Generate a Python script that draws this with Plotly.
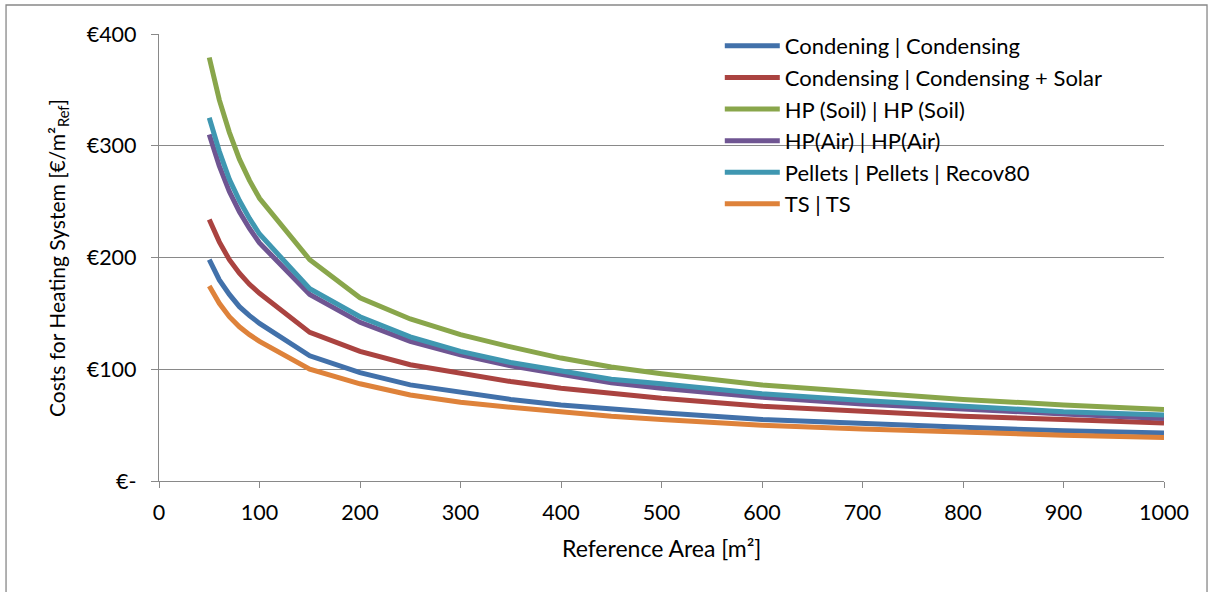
import plotly.graph_objects as go

area = [50, 60, 70, 80, 90, 100, 150, 200, 250, 300, 350, 400, 450, 500, 600, 700, 800, 900, 1000]

condensing = [198, 180, 167, 156, 148, 141, 112, 97, 86, 79, 73, 68, 64, 61, 55, 51, 48, 45, 43]
condensing_solar = [234, 214, 198, 186, 176, 168, 133, 116, 104, 96, 89, 83, 78, 74, 67, 62, 58, 55, 52]
hp_soil = [379, 341, 312, 288, 269, 253, 198, 164, 145, 131, 120, 110, 102, 96, 86, 79, 73, 68, 64]
hp_air = [310, 282, 259, 241, 226, 213, 167, 142, 125, 113, 103, 95, 88, 83, 75, 69, 64, 60, 56]
pellets = [325, 295, 270, 251, 235, 221, 172, 147, 129, 116, 106, 98, 91, 87, 78, 72, 67, 62, 59]
ts = [174.5, 159, 147, 138, 131, 125, 100, 87, 77, 70.5, 66, 61.5, 58, 55, 50, 46.5, 43.5, 41, 39]

series_names = [
    "Condening | Condensing",
    "Condensing | Condensing + Solar",
    "HP (Soil) | HP (Soil)",
    "HP(Air) | HP(Air)",
    "Pellets | Pellets | Recov80",
    "TS | TS",
]
series_values = [condensing, condensing_solar, hp_soil, hp_air, pellets, ts]
series_colors = ["#4271AA", "#AA4340", "#89A64B", "#6F5592", "#3F97B1", "#DE823A"]

y_tickvals = [0, 100, 200, 300, 400]
y_ticktext = ["€-", "€100", "€200", "€300", "€400"]
x_tickvals = list(range(0, 1001, 100))

FONT = "Lato"
fig = go.Figure()
for i, (name, vals, col) in enumerate(zip(series_names, series_values, series_colors)):
    fig.add_trace(go.Scatter(
        x=area, y=vals, mode="lines", name=name,
        line=dict(color=col, width=5),
        legendgroup=f"g{i}",
    ))

grid = "#898989"
fig.update_layout(
    width=1213, height=592,
    margin=dict(l=159, r=49, t=34, b=111),
    paper_bgcolor="white", plot_bgcolor="white",
    font=dict(family=FONT, size=21, color="black"),
    showlegend=True,
    legend=dict(
        x=0.558, y=1.02, xanchor="left", yanchor="top",
        bgcolor="rgba(0,0,0,0)", font=dict(family=FONT, size=22, color="black"),
        tracegroupgap=0, itemwidth=55,
    ),
    xaxis=dict(
        range=[0, 1000], tickvals=x_tickvals, showgrid=False,
        showline=True, linecolor=grid, linewidth=1.3,
        ticks="outside", ticklen=6, tickcolor=grid, tickwidth=1.3,
        zeroline=False, ticklabelstandoff=6,
        tickfont=dict(family=FONT, size=21.5, color="black"),
    ),
    yaxis=dict(
        range=[0, 400], tickvals=y_tickvals, ticktext=y_ticktext,
        showgrid=True, gridcolor=grid, gridwidth=1.3,
        showline=True, linecolor=grid, linewidth=1.3,
        ticks="outside", ticklen=7, tickcolor=grid, tickwidth=1.3,
        zeroline=False, ticklabelstandoff=10,
        tickfont=dict(family=FONT, size=21.5, color="black"),
    ),
    annotations=[
        dict(text="Costs for Heating System [€/m²<sub>Ref</sub>]", xref="paper", yref="paper",
             x=-0.101, y=0.5, xanchor="center", yanchor="middle", textangle=-90,
             showarrow=False, font=dict(family=FONT, size=21, color="black")),
        dict(text="Reference Area [m²]", xref="paper", yref="paper",
             x=0.5, y=-0.15, xanchor="center", yanchor="middle",
             showarrow=False, font=dict(family=FONT, size=23, color="black")),
    ],
    shapes=[
        dict(type="rect", xref="paper", yref="paper",
             x0=-0.1522, x1=1.0428, y0=-0.35, y1=1.0649,
             line=dict(color="#888888", width=1.3), fillcolor="rgba(0,0,0,0)", layer="below"),
    ],
)

fig.write_html("out.html")
